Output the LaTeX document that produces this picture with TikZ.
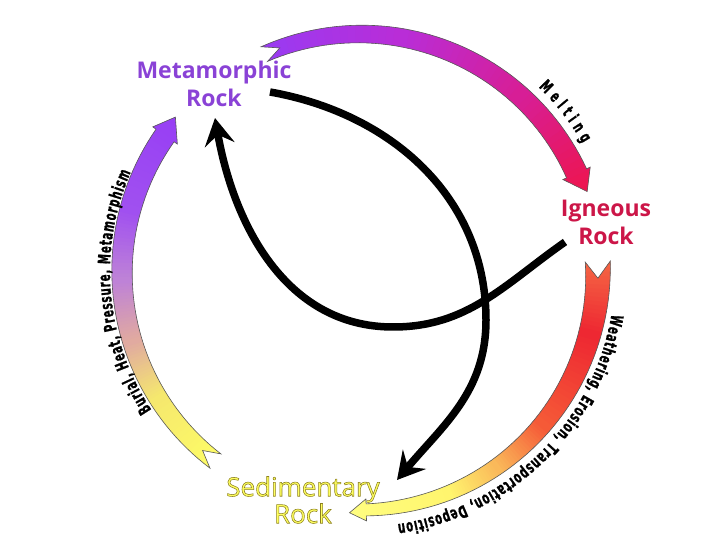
\documentclass[tikz,border=0pt]{standalone}
\usepackage{fontspec}
\setmainfont{Open Sans}
\newfontfamily\labelfont{Open Sans}
\newfontfamily\curvefont[FakeStretch=0.6, FakeBold=1]{DejaVu Sans}
\usetikzlibrary{arrows.meta, decorations.text, positioning}

\definecolor{metapurple}{RGB}{138,66,214}
\definecolor{igneousred}{RGB}{204,22,72}
\definecolor{sedyellow}{RGB}{255,255,95}
\definecolor{sedoutline}{RGB}{150,140,40}
% ribbon colours
\definecolor{topa}{RGB}{150,60,245}
\definecolor{topb}{RGB}{185,45,215}
\definecolor{topc}{RGB}{215,30,150}
\definecolor{topd}{RGB}{240,20,70}
\definecolor{rta}{RGB}{245,110,70}
\definecolor{rtb}{RGB}{238,40,50}
\definecolor{rtc}{RGB}{245,90,55}
\definecolor{rtd}{RGB}{250,185,90}
\definecolor{rte}{RGB}{255,245,110}
\definecolor{rtf}{RGB}{255,255,130}
\definecolor{lfa}{RGB}{255,255,100}
\definecolor{lfb}{RGB}{245,232,110}
\definecolor{lfc}{RGB}{225,170,160}
\definecolor{lfd}{RGB}{190,130,215}
\definecolor{lfe}{RGB}{160,80,240}
\definecolor{lff}{RGB}{150,60,245}

% outlined letters (fill + stroke) for the sedimentary label
\newcommand{\outlined}[1]{%
  \special{pdf:literal direct 0.55 0.5 0.12 RG 0.55 w 2 Tr}#1\special{pdf:literal direct 0 Tr}}

% outline of a curved ribbon arrow round the centre (radius 238)
% #1 tail angle, #2 end of body, #3 tip, #4 tail half width, #5 end half width, #6 head half width, #7 notch
\newcommand{\ribbonpath}[7]{%
  plot[domain=#1:#2, samples=50, variable=\t]
    ({(238+#4+(#5-#4)*(\t-(#1))/((#2)-(#1)))*cos(\t)},
     {(238+#4+(#5-#4)*(\t-(#1))/((#2)-(#1)))*sin(\t)})
  -- ({#2}:{238+#6}) -- ({#3}:241) -- ({#2}:{238-#6})
  -- plot[domain=#2:#1, samples=50, variable=\t]
    ({(238-#4-(#5-#4)*(\t-(#1))/((#2)-(#1)))*cos(\t)},
     {(238-#4-(#5-#4)*(\t-(#1))/((#2)-(#1)))*sin(\t)})
  -- ({#1-#7}:238) -- cycle}

% colour run along the ribbon, list of from/to/colour/colour
\newcommand{\ribbonfill}[1]{%
  \foreach \sa/\sb/\ca/\cb in {#1}{%
    \foreach \k in {0,...,19}{%
      \pgfmathsetmacro{\ta}{\sa+(\sb-\sa)*\k/20}%
      \pgfmathsetmacro{\tb}{\sa+(\sb-\sa)*(\k+1.5)/20}%
      \pgfmathtruncatemacro{\p}{100*\k/19}%
      \fill[\cb!\p!\ca] (\ta:210pt) arc[start angle=\ta, end angle=\tb, radius=210pt]
        -- (\tb:270pt) arc[start angle=\tb, end angle=\ta, radius=270pt] -- cycle;
    }%
  }%
}

\begin{document}
\begin{tikzpicture}[x=1pt, y=1pt,
    rocklabel/.style={font=\labelfont\bfseries\fontsize{23}{28}\selectfont, align=center, inner sep=0pt},
    sedlabel/.style={font=\labelfont\fontsize{26}{27}\selectfont, align=center, inner sep=0pt, text=sedyellow},
    cycleline/.style={line width=7.5pt, -{Stealth[length=27pt, width=30pt, inset=10pt]}},
    ribbonedge/.style={draw=black!65, line width=0.6pt},
    curvetext/.style={decorate, decoration={text along path, text align=fit to path,
        text={|\curvefont\bfseries\fontsize{17}{17}\selectfont|#1}}}]

    \useasboundingbox (0,0) rectangle (720,540);

    \node [rocklabel, text=metapurple] (meta) at (214,456) {Metamorphic\\Rock};
    \node [rocklabel, text=igneousred] (igneous) at (606,318) {Igneous\\Rock};
    \node [sedlabel] (sed) at (303,40) {\outlined{Sedimentary}\\\outlined{Rock}};

    \begin{scope}[shift={(360,268)}]
        % Metamorphic to Igneous
        \begin{scope}
            \clip \ribbonpath{113.7}{24.5}{19.5}{8}{11}{15}{4};
            \ribbonfill{117/80/topa/topb, 80/48/topb/topc, 48/16/topc/topd}
        \end{scope}
        \draw[ribbonedge] \ribbonpath{113.7}{24.5}{19.5}{8}{11}{15}{4};
        \path[curvetext={Melting}] (46:257) arc[start angle=46, end angle=30, radius=257pt];

        % Igneous to Sedimentary
        \begin{scope}
            \clip \ribbonpath{2.5}{-88.5}{-92.5}{12.5}{6}{11}{4};
            \ribbonfill{5/-15/rta/rtb, -15/-40/rtb/rtc, -40/-55/rtc/rtd, -55/-68/rtd/rte, -68/-96/rte/rtf}
        \end{scope}
        \draw[ribbonedge] \ribbonpath{2.5}{-88.5}{-92.5}{12.5}{6}{11}{4};
        \path[curvetext={Weathering, Erosion, Transportation, Deposition}] (-9.5:255) arc[start angle=-9.5, end angle=-81.5, radius=255pt];

        % Sedimentary to Metamorphic
        \begin{scope}
            \clip \ribbonpath{232.6}{145}{140}{9}{11}{15}{4};
            \ribbonfill{236/212/lfa/lfb, 212/197/lfb/lfc, 197/182/lfc/lfd, 182/165/lfd/lfe, 165/136/lfe/lff}
        \end{scope}
        \draw[ribbonedge] \ribbonpath{232.6}{145}{140}{9}{11}{15}{4};
        \path[curvetext={Burial, Heat, Pressure, Metamorphism}] (213.5:250) arc[start angle=213.5, end angle=156.5, radius=250pt];
    \end{scope}

    \coordinate (igout) at (565,298);
    \coordinate (metain) at (215,422);
    \coordinate (metaout) at (270,448);
    \coordinate (sedin) at (397,60);
    \coordinate (lowbend) at (393,213);
    \coordinate (rightbend) at (486,220);

    % Igneous back to Metamorphic
    \draw[cycleline] (igout) to[out=215, in=0] (lowbend) to[out=180, in=-80] (metain);

    % Metamorphic down to Sedimentary
    \draw[cycleline] (metaout) to[out=-10, in=90] (rightbend) to[out=-90, in=50] (sedin);

\end{tikzpicture}
\end{document}
